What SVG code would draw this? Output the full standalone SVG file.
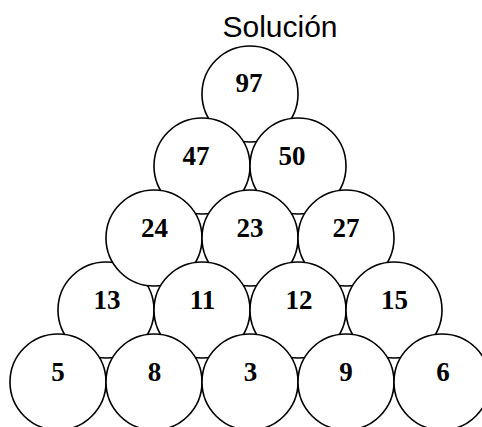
<svg xmlns="http://www.w3.org/2000/svg" width="482" height="427" viewBox="0 0 482 427">
<style>
.c{fill:#fff;stroke:#000;stroke-width:1.6}
.n{font-family:"Liberation Serif","Times New Roman",serif;font-weight:bold;font-size:27px;text-anchor:middle;fill:#000}
.t{font-family:"Liberation Sans",Arial,sans-serif;font-size:30px;text-anchor:middle;fill:#000}
</style>
<rect width="482" height="427" fill="#fff"/>
<text class="t" x="280" y="37">Solución</text>
<g id="connectors"></g>
<g id="n97"><circle class="c" cx="250" cy="94" r="48"/><text class="n" x="249" y="92">97</text></g>
<g id="n47"><circle class="c" cx="202" cy="166" r="48"/><text class="n" x="196" y="165">47</text></g>
<g id="n50"><circle class="c" cx="298" cy="166" r="48"/><text class="n" x="292" y="165">50</text></g>
<g id="n13"><circle class="c" cx="106" cy="310" r="48"/><text class="n" x="107" y="309">13</text></g>
<g id="n24"><circle class="c" cx="154" cy="238" r="48"/><text class="n" x="154.5" y="237">24</text></g>
<g id="n23"><circle class="c" cx="250" cy="238" r="48"/><text class="n" x="250" y="237">23</text></g>
<g id="n27"><circle class="c" cx="346" cy="238" r="48"/><text class="n" x="346" y="237">27</text></g>
<g id="n11"><circle class="c" cx="202" cy="310" r="48"/><text class="n" x="202.5" y="309">11</text></g>
<g id="n12"><circle class="c" cx="298" cy="310" r="48"/><text class="n" x="299" y="309">12</text></g>
<g id="n15"><circle class="c" cx="394" cy="310" r="48"/><text class="n" x="394.5" y="309">15</text></g>
<g id="n5"><circle class="c" cx="58" cy="382" r="48"/><text class="n" x="58" y="381">5</text></g>
<g id="n8"><circle class="c" cx="154" cy="382" r="48"/><text class="n" x="154.5" y="381">8</text></g>
<g id="n3"><circle class="c" cx="250" cy="382" r="48"/><text class="n" x="250.5" y="381">3</text></g>
<g id="n9"><circle class="c" cx="346" cy="382" r="48"/><text class="n" x="346" y="381">9</text></g>
<g id="n6"><circle class="c" cx="442" cy="382" r="48"/><text class="n" x="443" y="381">6</text></g>
</svg>
